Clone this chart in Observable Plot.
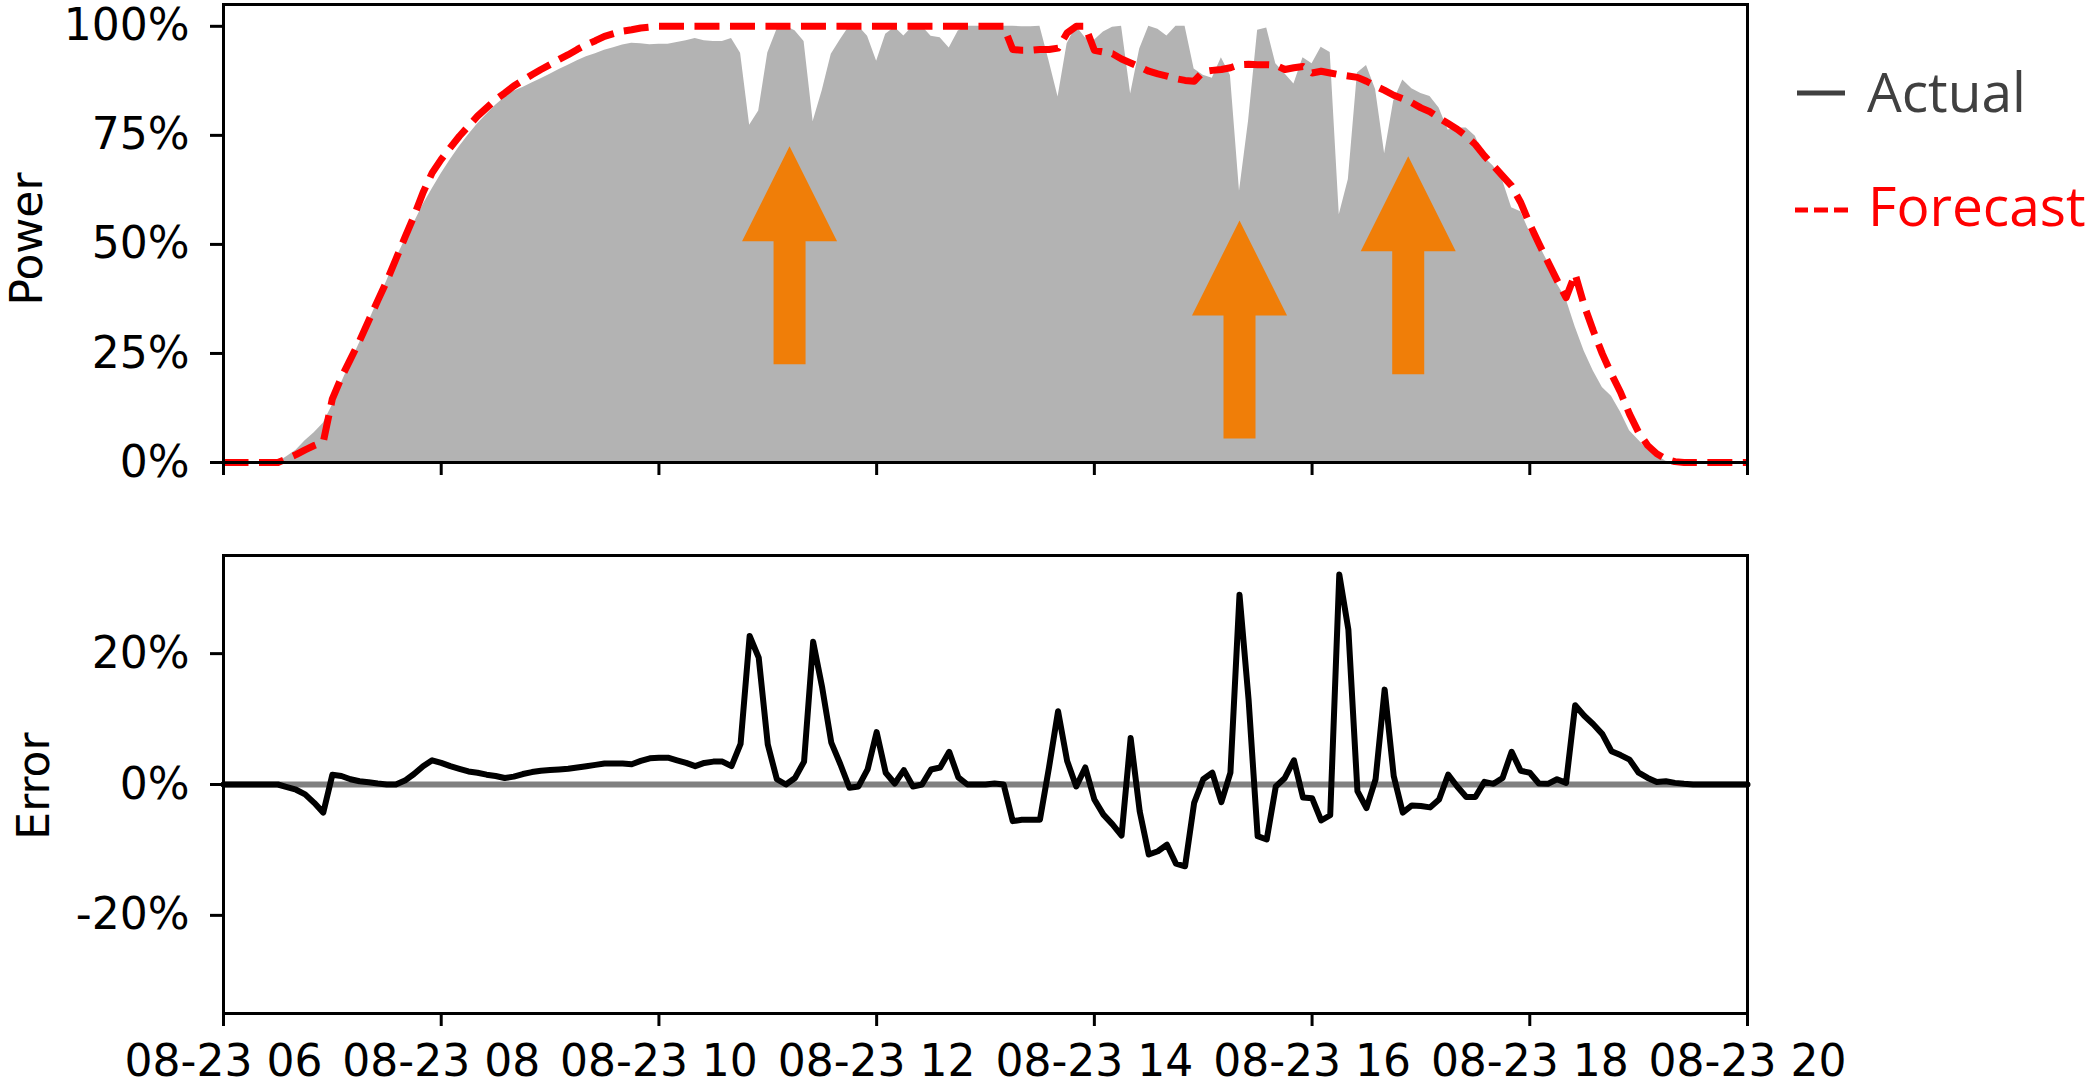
<!DOCTYPE html>
<html><head><meta charset="utf-8">
<script src="https://cdn.jsdelivr.net/npm/d3@7"></script>
<script src="https://cdn.jsdelivr.net/npm/@observablehq/plot@0.6"></script>
<style>
html,body{margin:0;padding:0;background:#fff;}
#wrap{position:relative;width:2085px;height:1087px;overflow:hidden;background:#fff;}
#wrap > svg{position:absolute;left:0;}
</style></head><body><div id="wrap"></div>
<script>
// 5-minute samples from 08-23 06:00 to 08-23 20:00 (one row per hour)
const day = {month: 7, date: 23};
const startHour = 6;
const stepMinutes = 5;

const actual = [
  0,0,0,0,0,0,0,.014,.028,.05,.068,.09,
  .131,.182,.229,.274,.322,.37,.416,.466,.51,.549,.591,.627,
  .662,.694,.724,.751,.776,.798,.819,.837,.851,.86,.87,.88,
  .89,.901,.911,.921,.93,.937,.945,.951,.957,.961,.96,.958,
  .959,.959,.963,.967,.972,.967,.965,.965,.972,.938,.773,.806,
  .939,.992,1,.99,.965,.782,.852,.936,.969,1,1,.977,
  .92,.982,.998,.978,1,1,.977,.974,.95,.989,1,1,
  1,.998,1,1,.999,.999,1,.921,.838,.96,1,.974,
  .968,.987,.998,1,.845,.948,1,.993,.978,1,1,.902,
  .888,.881,.928,.887,.622,.783,.991,.996,.914,.891,.868,.928,
  .914,.952,.94,.568,.649,.893,.91,.855,.708,.829,.877,.857,
  .846,.839,.813,.762,.767,.767,.748,.699,.679,.647,.584,.575,
  .528,.5,.459,.41,.375,.311,.255,.21,.172,.152,.116,.073,
  .051,.029,.016,.003,0,0,0,0,0,0,0,0,
  0
];
const forecast = [
  0,0,0,0,0,0,0,.009,.018,.029,.039,.047,
  .146,.195,.237,.279,.325,.371,.416,.466,.516,.565,.619,.664,
  .695,.722,.748,.771,.794,.813,.832,.847,.863,.876,.889,.901,
  .912,.924,.935,.947,.958,.967,.977,.983,.989,.992,.996,.998,
  1,1,1,1,1,1,1,1,1,1,1,1,
  1,1,1,1,1,1,1,1,1,1,1,1,
  1,1,1,1,1,1,1,1,1,1,1,1,
  1,1,1,.947,.945,.945,.947,.947,.95,.985,1,1,
  .945,.941,.937,.925,.916,.907,.897,.891,.886,.88,.876,.874,
  .896,.899,.901,.905,.912,.913,.912,.912,.911,.901,.905,.908,
  .893,.897,.893,.889,.886,.883,.874,.863,.853,.842,.834,.825,
  .813,.804,.79,.777,.764,.748,.729,.703,.68,.657,.634,.596,
  .546,.502,.46,.418,.378,.432,.36,.302,.249,.203,.161,.111,
  .069,.039,.02,.008,.002,0,0,0,0,0,0,0,
  0
];
const error = [
  0,0,0,0,0,0,0,-.004,-.008,-.015,-.028,-.043,
  .015,.013,.008,.005,.0035,.0015,0,0,.006,.016,.028,.037,
  .033,.028,.024,.02,.018,.015,.013,.01,.012,.016,.019,.021,
  .022,.023,.024,.026,.028,.03,.032,.032,.032,.031,.036,.04,
  .041,.041,.037,.033,.028,.033,.035,.035,.028,.062,.227,.194,
  .061,.008,0,.01,.035,.218,.148,.064,.031,-.005,-.003,.023,
  .08,.018,.0015,.022,-.003,0,.023,.026,.05,.011,0,0,
  0,.0015,0,-.056,-.054,-.054,-.054,.026,.112,.036,-.003,.026,
  -.023,-.046,-.061,-.078,.071,-.041,-.107,-.102,-.092,-.121,-.125,-.028,
  .008,.018,-.027,.018,.29,.13,-.079,-.084,-.003,.01,.037,-.02,
  -.021,-.055,-.047,.321,.237,-.01,-.036,.008,.145,.013,-.043,-.032,
  -.033,-.035,-.023,.015,-.003,-.019,-.019,.004,.001,.01,.05,.021,
  .018,.0015,.001,.008,.0025,.121,.105,.092,.077,.051,.045,.038,
  .018,.01,.004,.005,.0025,.001,0,0,0,0,0,0,
  0
];

const xTickHours = [6, 8, 10, 12, 14, 16, 18, 20];
const xTickPrefix = "08-23";
const powerTicks = [0, 0.25, 0.5, 0.75, 1];
const errorTicks = [-0.2, 0, 0.2];
const arrowTimes = ["11:12", "15:20", "16:53"];
const arrowLevels = [0.475, 0.305, 0.452];
const legendLabels = ["Actual", "Forecast"];
const axisTitles = ["Power", "Error"];

// ---- build tables ----
const at = (h, m) => new Date(Date.UTC(2000, day.month, day.date, h, m));
const times = actual.map((_, i) => at(startHour, i * stepMinutes));
const rows = times.map((t, i) => ({t, actual: actual[i], forecast: forecast[i], error: error[i]}));
const arrows = arrowTimes.map((s, i) => {
  const [h, m] = s.split(":").map(Number);
  return {t: at(h, m), v: arrowLevels[i]};
});
const tickDates = xTickHours.map(h => at(h, 0));
const fmtX = d => `${xTickPrefix} ${String(d.getUTCHours()).padStart(2, "0")}`;
const fmtPct = d => `${Math.round(d * 100)}%`;
const xDomain = [at(6, 0), at(20, 0)];

const blockArrow = {
  draw(ctx) {
    ctx.moveTo(0, -109);
    ctx.lineTo(47.5, -14);
    ctx.lineTo(16, -14);
    ctx.lineTo(16, 109);
    ctx.lineTo(-16, 109);
    ctx.lineTo(-16, -14);
    ctx.lineTo(-47.5, -14);
    ctx.closePath();
  }
};

const common = {
  width: 2085,
  marginLeft: 223,
  marginRight: 338,
  style: {fontFamily: "'DejaVu Sans', sans-serif", fontSize: "44px", color: "black", background: "white", overflow: "visible"}
};

const powerPlot = Plot.plot({
  ...common,
  height: 492,
  marginTop: 4,
  marginBottom: 30,
  x: {type: "utc", domain: xDomain, label: null},
  y: {domain: [0, 1.05], label: null},
  marks: [
    Plot.areaY(rows, {x: "t", y: "actual", fill: "#b3b3b3", curve: "linear"}),
    Plot.line(rows, {x: "t", y: "forecast", stroke: "#ff0000", strokeWidth: 7, strokeDasharray: "25,10.5", strokeLinecap: "butt", strokeLinejoin: "round"}),
    Plot.dot(arrows, {x: "t", y: "v", symbol: blockArrow, r: 10, fill: "#f07e08", stroke: "none"}),
    Plot.frame({stroke: "black", strokeWidth: 3}),
    Plot.axisX({ticks: tickDates, tickSize: 13, tickFormat: () => "", strokeWidth: 3, label: null}),
    Plot.axisY({ticks: powerTicks, tickSize: 13, tickPadding: 21, tickFormat: fmtPct, strokeWidth: 3, fontSize: 44, label: null})
  ]
});
powerPlot.style.top = "0px";

const errorPlot = Plot.plot({
  ...common,
  height: 595,
  marginTop: 63,
  marginBottom: 74,
  x: {type: "utc", domain: xDomain, label: null},
  y: {domain: [-0.35, 0.35], label: null},
  marks: [
    Plot.ruleY([0], {stroke: "#808080", strokeWidth: 6}),
    Plot.line(rows, {x: "t", y: "error", stroke: "black", strokeWidth: 6, strokeLinejoin: "round", strokeLinecap: "round"}),
    Plot.frame({stroke: "black", strokeWidth: 3}),
    Plot.axisX({ticks: tickDates, tickSize: 13, tickPadding: 18, tickFormat: fmtX, strokeWidth: 3, fontSize: 44, label: null}),
    Plot.axisY({ticks: errorTicks, tickSize: 13, tickPadding: 21, tickFormat: fmtPct, strokeWidth: 3, fontSize: 44, label: null})
  ]
});
errorPlot.style.top = "492px";

const wrap = document.getElementById("wrap");
wrap.appendChild(powerPlot);
wrap.appendChild(errorPlot);

// legend + axis titles overlay
const ns = "http://www.w3.org/2000/svg";
const ov = document.createElementNS(ns, "svg");
ov.setAttribute("width", 2085);
ov.setAttribute("height", 1087);
ov.style.top = "0px";
ov.style.pointerEvents = "none";
function el(tag, attrs, text) {
  const e = document.createElementNS(ns, tag);
  for (const k in attrs) e.setAttribute(k, attrs[k]);
  if (text != null) e.textContent = text;
  ov.appendChild(e);
  return e;
}
el("line", {x1: 1797, x2: 1845, y1: 93, y2: 93, stroke: "#404040", "stroke-width": 5});
el("text", {x: 1867, y: 112, fill: "#404040", "font-family": "'Open Sans', sans-serif", "font-size": 55}, legendLabels[0]);
[[1795, 1808], [1814, 1828], [1834, 1848]].forEach(([a, b]) =>
  el("line", {x1: a, x2: b, y1: 210, y2: 210, stroke: "#ff0000", "stroke-width": 5}));
el("text", {x: 1868, y: 226, fill: "#ff0000", "font-family": "'Open Sans', sans-serif", "font-size": 55}, legendLabels[1]);
el("text", {x: 0, y: 0, transform: "translate(42,239) rotate(-90)", "text-anchor": "middle", "font-family": "'DejaVu Sans', sans-serif", "font-size": 44, fill: "black"}, axisTitles[0]);
el("text", {x: 0, y: 0, transform: "translate(49,786) rotate(-90)", "text-anchor": "middle", "font-family": "'DejaVu Sans', sans-serif", "font-size": 44, fill: "black"}, axisTitles[1]);
wrap.appendChild(ov);
</script>
</body></html>
